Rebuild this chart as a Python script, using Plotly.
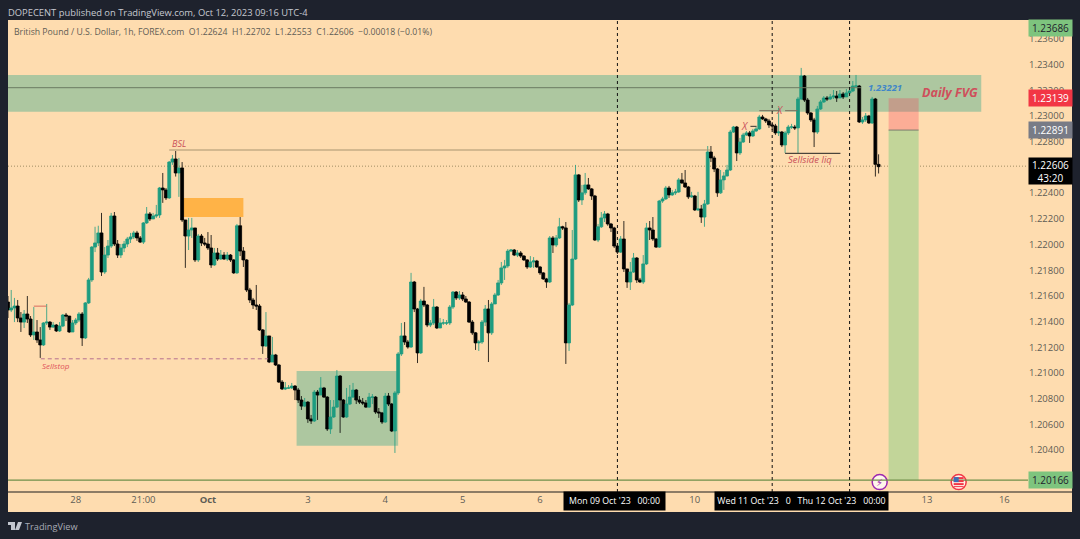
import pandas as pd
import plotly.graph_objects as go

# hourly closes, highs and lows, Sep 27 03:00 to Oct 12 09:00
first_open = 1.21552
closes = [
    1.2149, 1.21506, 1.21521, 1.21428, 1.21396, 1.21459, 1.2142, 1.21296, 1.21319, 1.21257, 1.21218, 1.21389,
    1.21396, 1.21357, 1.21373, 1.21327, 1.21365, 1.21451, 1.21443, 1.21319, 1.21389, 1.21412, 1.21459, 1.21273,
    1.21545, 1.21724, 1.2198, 1.22012, 1.2209, 1.21786, 1.21918, 1.21988, 1.22222, 1.22004, 1.21918, 1.21973,
    1.22004, 1.22043, 1.22059, 1.2209, 1.22051, 1.22019, 1.22168, 1.22238, 1.22199, 1.22222, 1.2223, 1.2244,
    1.22425, 1.22363, 1.22642, 1.22666, 1.22557, 1.22596, 1.22191, 1.22066, 1.22113, 1.22129, 1.2188, 1.22066,
    1.22012, 1.22004, 1.21973, 1.21841, 1.21934, 1.21887, 1.21918, 1.21887, 1.21918, 1.2188, 1.21779, 1.22146,
    1.21949, 1.2188, 1.21646, 1.21568, 1.21529, 1.21521, 1.21335, 1.2121, 1.21288, 1.21085, 1.2114, 1.21062,
    1.20929, 1.20875, 1.20883, 1.20883, 1.20898, 1.20867, 1.20789, 1.20742, 1.20773, 1.20642, 1.20626, 1.20851,
    1.20828, 1.20883, 1.20812, 1.20564, 1.20657, 1.20734, 1.20976, 1.20789, 1.20657, 1.20758, 1.20812, 1.20867,
    1.20789, 1.20773, 1.20766, 1.20734, 1.20812, 1.20812, 1.20696, 1.20689, 1.20618, 1.2082, 1.20758, 1.20548,
    1.20844, 1.21148, 1.21288, 1.21241, 1.21202, 1.21708, 1.21498, 1.21156, 1.2156, 1.21529, 1.21373, 1.21389,
    1.21513, 1.2135, 1.21389, 1.21389, 1.21389, 1.21513, 1.2163, 1.21584, 1.21607, 1.21576, 1.21552, 1.21396,
    1.21312, 1.21234, 1.21241, 1.21396, 1.21498, 1.21312, 1.21537, 1.21607, 1.21701, 1.21818, 1.21833, 1.21949,
    1.21957, 1.21918, 1.21934, 1.2191, 1.2188, 1.21825, 1.21864, 1.21872, 1.21825, 1.21779, 1.21732, 1.21708,
    1.22051, 1.21996, 1.22051, 1.22138, 1.22129, 1.21234, 1.21529, 1.21887, 1.22542, 1.22347, 1.22402, 1.22464,
    1.22433, 1.22378, 1.22035, 1.22138, 1.22207, 1.22238, 1.2216, 1.22129, 1.21988, 1.21941, 1.22043, 1.2181,
    1.21708, 1.21786, 1.21895, 1.21724, 1.21708, 1.21849, 1.22129, 1.22113, 1.22043, 1.2198, 1.22339, 1.22355,
    1.2244, 1.22386, 1.22402, 1.22409, 1.22503, 1.22479, 1.22448, 1.22371, 1.22378, 1.22269, 1.22277, 1.22214,
    1.22316, 1.2272, 1.22674, 1.22588, 1.22402, 1.22503, 1.22534, 1.2258, 1.22876, 1.22915, 1.22713, 1.22798,
    1.22853, 1.22869, 1.22845, 1.22884, 1.229, 1.22993, 1.22978, 1.22962, 1.22931, 1.22923, 1.22869, 1.22876,
    1.22775, 1.22869, 1.22915, 1.22915, 1.22908, 1.23133, 1.23312, 1.23125, 1.23024, 1.2297, 1.22876, 1.23055,
    1.2311, 1.23141, 1.23133, 1.23149, 1.23156, 1.23141, 1.23172, 1.23149, 1.2318, 1.23195, 1.23234, 1.23234,
    1.22954, 1.2297, 1.23001, 1.22946, 1.23133, 1.22624, 1.22606,
]
highs = [
    1.21599, 1.21646, 1.21584, 1.21568, 1.21474, 1.2149, 1.21599, 1.21443, 1.21513, 1.21412, 1.21357, 1.21396,
    1.21537, 1.21404, 1.21396, 1.21381, 1.21396, 1.21459, 1.21467, 1.21443, 1.21412, 1.21428, 1.21474, 1.21474,
    1.21552, 1.2174, 1.21988, 1.22138, 1.22146, 1.22246, 1.2198, 1.22035, 1.22246, 1.22253, 1.22035, 1.22004,
    1.22028, 1.22059, 1.2209, 1.22106, 1.22106, 1.22066, 1.22175, 1.22292, 1.22253, 1.22246, 1.22308, 1.22448,
    1.22557, 1.2244, 1.2265, 1.22697, 1.22728, 1.22674, 1.22642, 1.22183, 1.22207, 1.22207, 1.22129, 1.22082,
    1.22082, 1.22051, 1.22097, 1.22074, 1.21973, 1.21973, 1.21957, 1.21941, 1.21941, 1.21926, 1.21887, 1.2216,
    1.22214, 1.2198, 1.21887, 1.21662, 1.21584, 1.21685, 1.21537, 1.21342, 1.21474, 1.21288, 1.2128, 1.21148,
    1.2107, 1.20945, 1.20929, 1.20906, 1.20922, 1.20906, 1.20883, 1.2082, 1.20805, 1.20781, 1.20673, 1.20867,
    1.20867, 1.20968, 1.20891, 1.2082, 1.20789, 1.20789, 1.21023, 1.20984, 1.20797, 1.20883, 1.20906, 1.20922,
    1.20875, 1.2082, 1.20805, 1.20789, 1.20844, 1.20836, 1.2082, 1.20727, 1.20696, 1.20844, 1.20844, 1.20766,
    1.20859, 1.21163, 1.21389, 1.21396, 1.21257, 1.21779, 1.21716, 1.21506, 1.21576, 1.2167, 1.21537, 1.21412,
    1.21576, 1.21521, 1.21428, 1.2142, 1.21412, 1.21529, 1.21638, 1.21638, 1.21638, 1.2163, 1.21599, 1.2156,
    1.21412, 1.21319, 1.21257, 1.21412, 1.21529, 1.21568, 1.21552, 1.21623, 1.21724, 1.21864, 1.2188, 1.21965,
    1.21965, 1.21965, 1.21957, 1.21949, 1.21918, 1.21887, 1.2191, 1.21902, 1.2188, 1.21833, 1.21786, 1.2174,
    1.22066, 1.22066, 1.22074, 1.22207, 1.22146, 1.22175, 1.21545, 1.22113, 1.2262, 1.22549, 1.22464, 1.22557,
    1.22518, 1.2244, 1.22386, 1.2216, 1.22253, 1.22261, 1.22246, 1.22168, 1.22138, 1.21996, 1.22066, 1.22183,
    1.2174, 1.21864, 1.21934, 1.21902, 1.2174, 1.21918, 1.22168, 1.22183, 1.22214, 1.22051, 1.22347, 1.22371,
    1.22456, 1.22456, 1.22425, 1.22433, 1.22518, 1.22557, 1.2258, 1.22456, 1.2241, 1.22386, 1.2241, 1.22308,
    1.22347, 1.22767, 1.22767, 1.2269, 1.22596, 1.2258, 1.22564, 1.2262, 1.22892, 1.22923, 1.22923, 1.2283,
    1.22869, 1.22884, 1.22884, 1.229, 1.22915, 1.23009, 1.23009, 1.22986, 1.22978, 1.22954, 1.22939, 1.23063,
    1.22884, 1.22884, 1.22931, 1.22939, 1.22931, 1.23149, 1.23375, 1.2332, 1.23141, 1.23032, 1.22986, 1.23079,
    1.23125, 1.23156, 1.23156, 1.23172, 1.23203, 1.23195, 1.23203, 1.23187, 1.23211, 1.23211, 1.23273, 1.2332,
    1.23242, 1.22993, 1.23024, 1.23009, 1.23149, 1.23141, 1.22702,
]
lows = [
    1.21428, 1.21474, 1.21396, 1.21396, 1.21319, 1.2135, 1.21389, 1.2128, 1.21257, 1.21234, 1.21117, 1.2121,
    1.21373, 1.21335, 1.2135, 1.21319, 1.21319, 1.21357, 1.21404, 1.21312, 1.21319, 1.21373, 1.21396, 1.2121,
    1.21264, 1.21537, 1.21708, 1.21941, 1.21988, 1.21755, 1.21771, 1.21895, 1.21973, 1.21988, 1.21895, 1.21895,
    1.21941, 1.2198, 1.22012, 1.22043, 1.22028, 1.22012, 1.22004, 1.2216, 1.22183, 1.22199, 1.22207, 1.22207,
    1.22324, 1.22347, 1.22355, 1.2262, 1.22529, 1.22371, 1.22175, 1.21818, 1.21957, 1.22051, 1.21864, 1.21864,
    1.21988, 1.21988, 1.21957, 1.21818, 1.21833, 1.21872, 1.2188, 1.2188, 1.21872, 1.21864, 1.21771, 1.21771,
    1.2191, 1.21825, 1.2163, 1.21545, 1.21498, 1.2149, 1.21327, 1.21148, 1.21202, 1.21077, 1.21085, 1.21054,
    1.20922, 1.20867, 1.20867, 1.20875, 1.20875, 1.20789, 1.20766, 1.20712, 1.20734, 1.20611, 1.20603, 1.20618,
    1.20634, 1.20836, 1.20805, 1.20548, 1.20525, 1.2065, 1.20727, 1.20533, 1.2065, 1.2065, 1.2075, 1.20805,
    1.20758, 1.20758, 1.2075, 1.20727, 1.20727, 1.20758, 1.20681, 1.2065, 1.20603, 1.20611, 1.20742, 1.2054,
    1.20377, 1.20828, 1.21132, 1.21218, 1.21189, 1.21195, 1.21474, 1.21077, 1.21148, 1.21513, 1.21357, 1.21357,
    1.21373, 1.21342, 1.2135, 1.21373, 1.21373, 1.21373, 1.21498, 1.21568, 1.21568, 1.2156, 1.21545, 1.21389,
    1.21296, 1.21179, 1.21171, 1.21226, 1.21365, 1.21085, 1.21296, 1.21537, 1.21599, 1.21685, 1.21724, 1.21818,
    1.21941, 1.2191, 1.21902, 1.21895, 1.21872, 1.2181, 1.21818, 1.21818, 1.21818, 1.21763, 1.21724, 1.21662,
    1.21701, 1.21934, 1.2198, 1.22043, 1.22113, 1.2107, 1.21171, 1.21521, 1.2188, 1.22331, 1.22308, 1.22386,
    1.22425, 1.22347, 1.22028, 1.22019, 1.22129, 1.22175, 1.22146, 1.22097, 1.21973, 1.21926, 1.21934, 1.21786,
    1.21662, 1.21646, 1.21779, 1.21701, 1.21701, 1.21693, 1.21841, 1.22035, 1.22028, 1.21973, 1.21973, 1.22324,
    1.22347, 1.22363, 1.22378, 1.22386, 1.22402, 1.22472, 1.2244, 1.22355, 1.22363, 1.22261, 1.22261, 1.22168,
    1.22138, 1.22308, 1.22642, 1.22564, 1.22371, 1.22394, 1.22425, 1.22529, 1.22572, 1.22869, 1.2265, 1.22697,
    1.22791, 1.22845, 1.22791, 1.22838, 1.22876, 1.22892, 1.2297, 1.22946, 1.22908, 1.22892, 1.22853, 1.22845,
    1.22759, 1.22713, 1.22853, 1.229, 1.22892, 1.22713, 1.23125, 1.2311, 1.23009, 1.22954, 1.22759, 1.22861,
    1.23048, 1.23102, 1.23117, 1.23125, 1.23133, 1.2311, 1.23141, 1.23133, 1.23149, 1.23172, 1.23187, 1.23219,
    1.22946, 1.22939, 1.22954, 1.22939, 1.22939, 1.22529, 1.22553,
]

# session hours, the weekends are not traded
bar_times = pd.date_range('2023-09-27 03:00', '2023-09-29 16:00', freq='h') \
    .append(pd.date_range('2023-10-01 17:00', '2023-10-06 16:00', freq='h')) \
    .append(pd.date_range('2023-10-08 17:00', '2023-10-12 09:00', freq='h'))
opens = [first_open] + closes[:-1]

time_ticks = ['2023-09-28 00:00', '2023-09-28 21:00', '2023-10-01 17:00', '2023-10-03 00:00', '2023-10-04 00:00',
              '2023-10-05 00:00', '2023-10-06 00:00', '2023-10-10 00:00', '2023-10-13 00:00', '2023-10-16 00:00']
time_labels = ['28', '21:00', '<b>Oct</b>', '3', '4', '5', '6', '10', '13', '16']
price_ticks = [1.236, 1.234, 1.232, 1.230, 1.228, 1.224, 1.222, 1.220, 1.218, 1.216, 1.214, 1.212, 1.210,
               1.208, 1.206, 1.204, 1.202]
crosshair_days = ['2023-10-09 00:00', '2023-10-11 00:00', '2023-10-12 00:00']

last_price = 1.2261
fvg_level = 1.23221
stop_price = 1.23139
entry_price = 1.22891
target_price = 1.20166
high_label = 1.23686
bsl_level = 1.22736
sellstop_level = 1.2111
icon_level = 1.2015

start_time = '2023-09-27 03:00'
end_time = '2023-10-16 07:20'

BACK = '#1e222d'
PEACH = '#fedcaf'
GREEN = '#1e9c80'
ZONE = 'rgba(75,173,142,0.45)'
TEXT = '#5f5c55'
RED_TEXT = '#c9505a'
FONT = 'Open Sans'


# screen position to paper coordinates, only for the frame around the chart
def px(x):
    return (x - 8) / 1020


def py(y):
    return (492 - y) / 472


def box(x0, x1, y0, y1, color, **kw):
    return dict(type='rect', xref='x', yref='y', x0=x0, x1=x1, y0=y0, y1=y1,
                fillcolor=color, line_width=0, layer='below', **kw)


def seg(x0, x1, y, color, width=1, dash='solid'):
    return dict(type='line', xref='x', yref='y', x0=x0, x1=x1, y0=y, y1=y,
                line=dict(color=color, width=width, dash=dash), layer='above')


def label(text, y, bg, color='#1e222d', height=14):
    return dict(text=text, xref='paper', yref='y', x=1, y=y, xanchor='left', yanchor='middle',
                showarrow=False, bgcolor=bg, width=41, height=height, align='center',
                font=dict(family=FONT, size=10, color=color))


def note(text, x, y, color=RED_TEXT, size=9, anchor='center'):
    return dict(text='<i>' + text + '</i>', x=x, y=y, xref='x', yref='y', xanchor=anchor, yanchor='middle',
                showarrow=False, font=dict(family=FONT, size=size, color=color))


def frame_text(text, x, y, color, size, anchor='left', **kw):
    return dict(text=text, xref='paper', yref='paper', x=px(x), y=py(y), xanchor=anchor, yanchor='middle',
                showarrow=False, font=dict(family=FONT, size=size, color=color), **kw)


fig = go.Figure()

fig.add_trace(go.Candlestick(
    x=bar_times, open=opens, high=highs, low=lows, close=closes,
    increasing=dict(line=dict(color=GREEN, width=0.8), fillcolor=GREEN),
    decreasing=dict(line=dict(color='#000000', width=0.8), fillcolor='#000000'),
    whiskerwidth=0, hoverinfo='skip', showlegend=False))

# event icons on the time axis
fig.add_trace(go.Scatter(
    x=['2023-10-12 09:20', '2023-10-13 09:50'], y=[icon_level, icon_level], mode='markers', cliponaxis=False,
    marker=dict(size=15, color='#fff6ea', line=dict(color=['#9c27b0', '#f23645'], width=1.5)),
    hoverinfo='skip', showlegend=False))

shapes = [
    # panel behind the chart and both axes
    dict(type='rect', xref='paper', yref='paper', x0=0, x1=px(1072), y0=py(512), y1=1,
         fillcolor=PEACH, line_width=0, layer='below'),
    box(start_time, '2023-10-13 16:50', 1.23034, 1.2332, ZONE),
    box('2023-10-02 20:30', '2023-10-04 04:00', 1.20434, 1.21015, ZONE),
    box('2023-09-29 09:00', '2023-10-02 04:00', 1.22214, 1.22362, '#ffb347'),
    box('2023-10-12 12:06', '2023-10-12 21:25', target_price, entry_price, '#c2d599'),
    box('2023-10-12 12:06', '2023-10-12 21:25', entry_price, stop_price, 'rgba(248,54,86,0.28)'),
    seg(start_time, '2023-10-12 03:30', fvg_level, '#6b7a62'),
    seg('2023-09-29 05:00', '2023-10-10 04:45', bsl_level, '#a89370', 1.2),
    seg('2023-09-27 13:10', '2023-10-02 11:40', sellstop_level, '#b5708f', 1, '4px,3px'),
    seg('2023-09-27 11:00', '2023-09-27 15:00', 1.2152, '#d86a5e'),
    seg('2023-10-10 17:15', '2023-10-10 19:10', 1.2292, '#333333'),
    seg('2023-10-10 20:00', '2023-10-11 02:00', 1.23042, '#77705f'),
    seg('2023-10-11 04:00', '2023-10-11 07:50', 1.23042, '#77705f'),
    seg('2023-10-11 04:00', '2023-10-11 21:10', 1.2271, '#222222'),
    seg('2023-10-12 12:06', '2023-10-12 21:25', entry_price, '#7d7d6e'),
    dict(type='line', xref='paper', yref='y', x0=0, x1=1, y0=last_price, y1=last_price,
         line=dict(color='#8a7a50', width=0.8, dash='1px,2px'), layer='below'),
    dict(type='line', xref='paper', yref='y', x0=0, x1=1, y0=target_price, y1=target_price,
         line=dict(color='#6f8f4a', width=1.2), layer='above'),
    dict(type='line', xref='paper', yref='paper', x0=0, x1=px(1072), y0=0, y1=0,
         line=dict(color='#1c1c1c', width=1), layer='above'),
    # TradingView logo
    dict(type='path', xref='paper', yref='paper', line_width=0, fillcolor='#c3c6ce', layer='above',
         path='M %f %f L %f %f L %f %f L %f %f L %f %f L %f %f Z' % (
             px(8), py(522), px(15), py(522), px(15), py(530), px(11), py(530), px(11), py(525), px(8), py(525))),
    dict(type='path', xref='paper', yref='paper', line_width=0, fillcolor='#c3c6ce', layer='above',
         path='M %f %f L %f %f L %f %f L %f %f Z' % (
             px(18), py(522), px(22), py(522), px(19), py(530), px(15), py(530))),
]

for day in crosshair_days:
    shapes.append(dict(type='line', xref='x', yref='paper', x0=day, x1=day, y0=0, y1=1,
                       line=dict(color='#111111', width=1, dash='3px,3px'), layer='above'))

# small flag inside the second icon
for y0, y1, color in [(3, 5, '#f23645'), (0, 2, '#f23645'), (-3, -1, '#f23645'), (-5, -4, '#f23645'), (0, 5, '#3f6fb5')]:
    shapes.append(dict(type='rect', xref='x', yref='y', xsizemode='pixel', ysizemode='pixel',
                       xanchor='2023-10-13 09:50', yanchor=icon_level,
                       x0=-5, x1=0 if color == '#3f6fb5' else 5, y0=y0, y1=y1,
                       fillcolor=color, line_width=0, layer='above'))

annotations = [
    frame_text('DOPECENT published on TradingView.com, Oct 12, 2023 09:16 UTC-4', 6, 12, '#c5c8d0', 9.4),
    frame_text('British Pound / U.S. Dollar, 1h, FOREX.com  O1.22624  H1.22702  L1.22553  C1.22606  −0.00018 (−0.01%)',
               12, 32, TEXT, 8.7),
    frame_text('TradingView', 23, 526, '#a9acb5', 9.2),
    frame_text("Mon 09 Oct '23   00:00", 614.5, 501, '#ffffff', 8.8, 'center',
               bgcolor='#000000', width=99, height=16),
    frame_text("Wed 11 Oct '23   0   Thu 12 Oct '23   00:00", 801.5, 501, '#ffffff', 8.8, 'center',
               bgcolor='#000000', width=171, height=16),
    label('1.23686', high_label, '#7ec47e'),
    label('1.23139', stop_price, '#f23645', '#ffffff'),
    label('1.22891', entry_price, '#787b86', '#ffffff'),
    label('1.22606<br>43:20', 1.22569, '#000000', '#ffffff', 24),
    label('1.20166', target_price, '#7ec47e'),
    note('BSL', '2023-09-29 08:00', 1.2279, size=9),
    note('Sellstop', '2023-09-27 18:00', 1.2106, '#e0525a', 8),
    note('X', '2023-10-10 15:40', 1.2292, size=10),
    note('X', '2023-10-11 02:20', 1.2305, size=10),
    note('Sellside liq', '2023-10-11 11:50', 1.2266, size=9.5),
    note('<b>1.23221</b>', '2023-10-12 05:00', 1.23225, '#3f86c8', 9.5, 'left'),
    note('<b>Daily FVG</b>', '2023-10-12 21:50', 1.2318, '#cf4f5b', 12.5, 'left'),
    dict(text='⚡', x='2023-10-12 09:20', y=icon_level, xref='x', yref='y', showarrow=False,
         font=dict(family='DejaVu Sans', size=10, color='#9c27b0')),
]

fig.update_layout(
    width=1080, height=539,
    margin=dict(l=8, r=52, t=20, b=47),
    paper_bgcolor=BACK, plot_bgcolor=PEACH,
    showlegend=False, hovermode=False, boxgap=0.1, boxgroupgap=0,
    shapes=shapes, annotations=annotations,
    xaxis=dict(
        type='date', range=[start_time, end_time], showgrid=False, zeroline=False, showline=False,
        rangeslider=dict(visible=False), ticks='',
        tickmode='array', tickvals=time_ticks, ticktext=time_labels,
        tickfont=dict(family=FONT, size=9.5, color=TEXT),
        rangebreaks=[dict(values=['2023-09-29 17:00', '2023-10-06 17:00', '2023-10-13 17:00'],
                          dvalue=48 * 3600 * 1000)]),
    yaxis=dict(
        side='right', range=[1.20073, 1.23748], showgrid=False, zeroline=False, showline=False, ticks='',
        tickmode='array', tickvals=price_ticks, ticktext=['%.5f' % p for p in price_ticks],
        tickfont=dict(family=FONT, size=9.5, color=TEXT)),
)

fig.write_html("out.html", config=dict(displayModeBar=False), post_script="document.body.style.margin='0';")
